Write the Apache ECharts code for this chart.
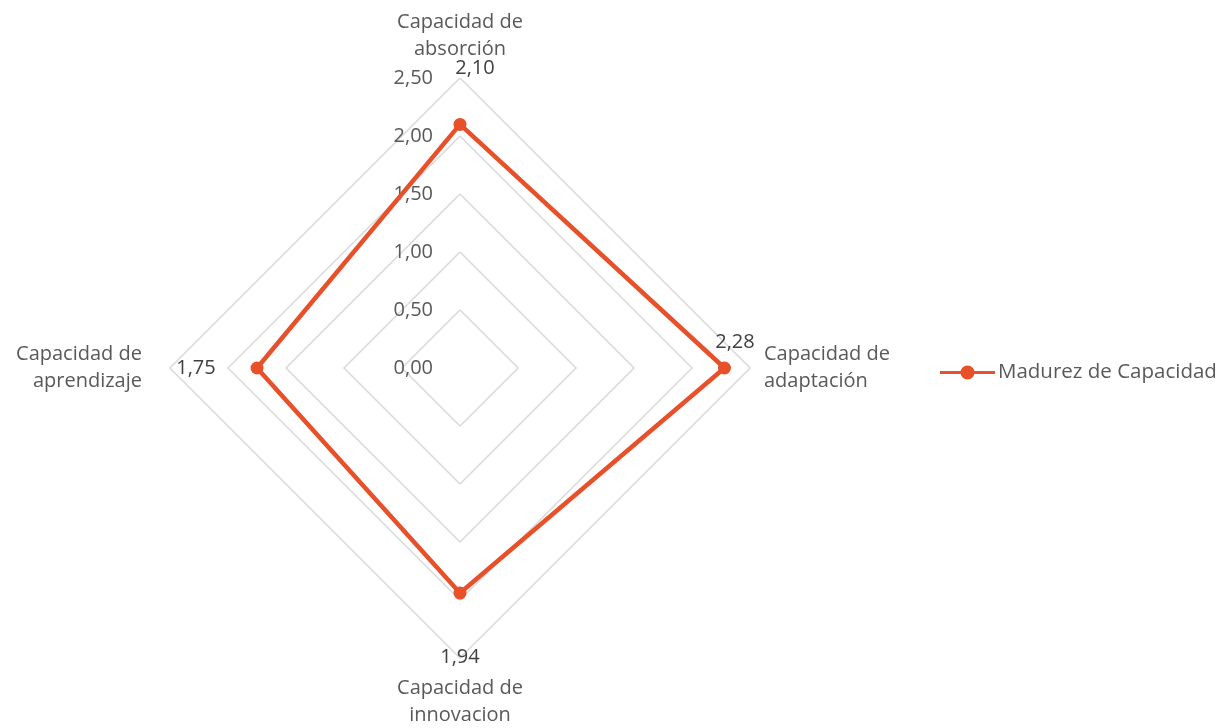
<!DOCTYPE html>
<html lang="es">
<head>
<meta charset="UTF-8">
<title>Madurez de Capacidad</title>
<script src="https://cdn.jsdelivr.net/npm/echarts@6/dist/echarts.min.js"></script>
</head>
<body style="margin:0;background:#fff;">
<div id="main" style="width:1226px;height:728px;"></div>
<script>
// indicadores en orden de ECharts (arriba, izquierda, abajo, derecha)
var indicadores = ['Capacidad de\nabsorción', 'Capacidad de\naprendizaje', 'Capacidad de\ninnovacion', 'Capacidad de\nadaptación'];
var valores = [2.10, 1.75, 1.94, 2.28];
var serieNombre = 'Madurez de Capacidad';
var maxEje = 2.5;

var color = '#E8502A';
var gris = '#595959';
var fuente = 'Open Sans';

function coma(v) {
    return Number(v).toFixed(2).replace('.', ',');
}

var myChart = echarts.init(document.getElementById('main'));

// desplazamiento de cada etiqueta de valor respecto al vertice exterior
var offsets = [[15, -10], [26, 0], [0, -1], [-15, -26]];
var etiquetas = valores.map(function (v, i) {
    var val = valores.map(function () { return 0; });
    val[i] = maxEje;
    return {
        value: val,
        label: {
            show: true,
            position: 'inside',
            offset: offsets[i],
            formatter: function (p) {
                return p.dimensionIndex === i ? coma(valores[i]) : '';
            }
        }
    };
});

// estilo del nombre de cada eje (un poco mas de aire a la izquierda y abajo)
var nombreRich = {
    t: { color: gris, fontSize: 20, fontFamily: fuente, lineHeight: 27, align: 'center', padding: [0, 0, 2, 0] },
    l: { color: gris, fontSize: 20, fontFamily: fuente, lineHeight: 27, align: 'right', padding: [0, 14, 0, 0] },
    b: { color: gris, fontSize: 20, fontFamily: fuente, lineHeight: 27, align: 'center', padding: [5, 0, 0, 0] },
    r: { color: gris, fontSize: 20, fontFamily: fuente, lineHeight: 27, align: 'left', padding: [0, 0, 0, 0] }
};
var claves = ['t', 'l', 'b', 'r'];

var option = {
    animation: false,
    legend: {
        data: [serieNombre],
        left: 935,
        top: 357,
        itemWidth: 55,
        itemHeight: 14,
        itemGap: 5,
        icon: 'path://M0,5.5h55v3h-55z M20.5,7a7,7 0 1,1 14,0a7,7 0 1,1 -14,0z',
        textStyle: { color: gris, fontSize: 20.5, fontFamily: fuente, padding: [0, 0, 0, -2] }
    },
    radar: {
        center: [460, 368],
        radius: 290,
        shape: 'polygon',
        startAngle: 90,
        splitNumber: 5,
        axisName: {
            color: gris,
            fontSize: 20,
            fontFamily: fuente,
            lineHeight: 27,
            formatter: function (name, ind) {
                var k = claves[indicadores.indexOf(name)];
                return name.split('\n').map(function (s) {
                    return '{' + k + '|' + s + '}';
                }).join('\n');
            },
            rich: nombreRich
        },
        nameGap: 14,
        axisLine: { show: false },
        axisTick: { show: false },
        splitArea: { show: false },
        splitLine: { lineStyle: { color: '#d9d9d9', width: 1.5 } },
        axisLabel: { show: false },
        indicator: indicadores.map(function (n, i) {
            var ind = { name: n, min: 0, max: maxEje };
            if (i === 0) {
                ind.axisLabel = {
                    show: true,
                    color: gris,
                    fontSize: 20,
                    fontFamily: fuente,
                    margin: 27,
                    formatter: function (v) { return coma(v); }
                };
            }
            return ind;
        })
    },
    series: [
        {
            name: serieNombre,
            type: 'radar',
            symbol: 'circle',
            symbolSize: 13,
            lineStyle: { color: color, width: 4.5 },
            itemStyle: { color: color },
            data: [{ value: valores, name: serieNombre }]
        },
        {
            name: 'etiquetas',
            type: 'radar',
            symbol: 'circle',
            symbolSize: 0,
            silent: true,
            lineStyle: { opacity: 0 },
            itemStyle: { color: 'transparent' },
            label: { color: '#404040', fontSize: 20, fontFamily: fuente },
            data: etiquetas
        }
    ]
};

myChart.setOption(option);
</script>
</body>
</html>
